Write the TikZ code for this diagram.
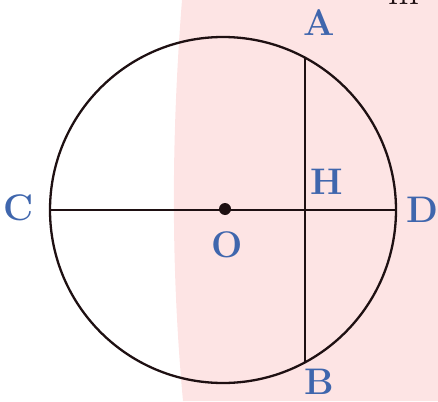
\documentclass[tikz,border=0pt]{standalone}
\usepackage{tikz}
\usepackage{xcolor}
\definecolor{circPink}{HTML}{FDE4E4}
\definecolor{circBlue}{HTML}{3F66AD}
\definecolor{circInk}{HTML}{1E1012}
\tikzset{
  circLabel/.style={anchor=base, inner sep=0pt, text=circBlue, font=\fontsize{37}{37}\selectfont\bfseries},
  circLine/.style={draw=circInk, line width=1.3pt}
}

\begin{document}
\begin{tikzpicture}[x=1pt,y=-1pt]
\useasboundingbox (0,0) rectangle (438,401);
\clip (0,0) rectangle (438,401);
% shaded half plane
\fill[circPink] (182,0) .. controls (171,140) and (171,270) .. (183,401) -- (438,401) -- (438,0) -- cycle;
\node[anchor=base, inner sep=0pt, text=circInk, font=\fontsize{40}{40}\selectfont] (topText) at (404,5) {m};
\coordinate (O) at (223,210);
\draw[draw=circInk, line width=2.3pt] (O) circle (173);
\coordinate (C) at (50,210);
\coordinate (D) at (396,210);
\coordinate (A) at (305,58);
\coordinate (B) at (305,362);
\draw[circLine] (C) -- (D);
\draw[circLine] (A) -- (B);
\node[circle, fill=circInk, inner sep=0pt, minimum size=12pt] (dotO) at (225,209) {};
% labels
\node[circLabel] (labelA) at (319,36) {A};
\node[circLabel] (labelB) at (319,394) {B};
\node[circLabel] (labelC) at (19,220) {C};
\node[circLabel] (labelD) at (422,222) {D};
\node[circLabel] (labelH) at (327,194) {H};
\node[circLabel] (labelO) at (227,257) {O};
\end{tikzpicture}
\end{document}
